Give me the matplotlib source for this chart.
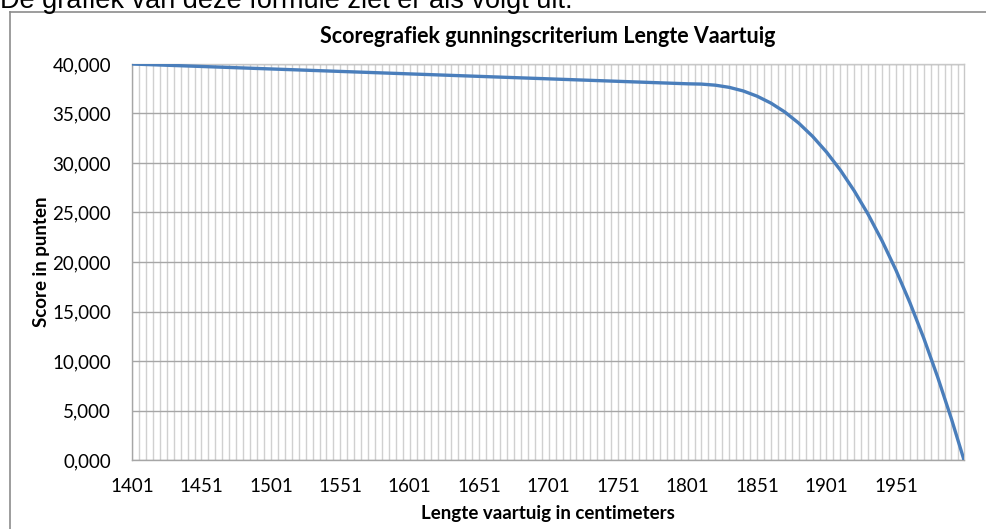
import numpy as np
import matplotlib
matplotlib.use("Agg")
import matplotlib.pyplot as plt
from matplotlib.lines import Line2D

# values (score in points, Dutch decimal comma on the axis)
lengte = [1401, 1451, 1501, 1551, 1601, 1651, 1701, 1751, 1801,
          1811, 1821, 1831, 1841, 1851, 1861, 1871, 1881, 1891, 1901,
          1911, 1921, 1931, 1941, 1951, 1961, 1971, 1981, 1991, 2000]
score = [40.00, 39.75, 39.50, 39.25, 39.00, 38.75, 38.50, 38.25, 38.00,
         37.97, 37.86, 37.64, 37.28, 36.75, 36.05, 35.15, 34.03, 32.69, 31.11,
         29.28, 27.18, 24.81, 22.14, 19.18, 15.91, 12.32, 8.39, 4.13, 0.00]
x_labels = [1401, 1451, 1501, 1551, 1601, 1651, 1701, 1751, 1801, 1851, 1901, 1951]
y_ticks = [0, 5, 10, 15, 20, 25, 30, 35, 40]

title = "Scoregrafiek gunningscriterium Lengte Vaartuig"
intro = "De grafiek van deze formule ziet er als volgt uit:"

W, H = 987, 529
fig = plt.figure(figsize=(W / 100, H / 100), dpi=100)
fig.patch.set_facecolor("white")

# sentence above the chart, cut off by the top edge as in the source screenshot
fig.text(0 / W, 1 - 8 / H, intro, fontsize=19.5, family="Liberation Sans",
         va="baseline", ha="left", color="black")

# chart frame (top and left edges only visible)
fig.add_artist(Line2D([10 / W, 10 / W], [0, 1 - 12 / H], transform=fig.transFigure,
                      color="#8c8c8c", lw=1.2))
fig.add_artist(Line2D([10 / W, 1], [1 - 12 / H, 1 - 12 / H], transform=fig.transFigure,
                      color="#8c8c8c", lw=1.2))

x0, x1, y0, y1 = 132, 964, 64, 460
ax = fig.add_axes([x0 / W, 1 - y1 / H, (x1 - x0) / W, (y1 - y0) / H])

ax.set_xlim(1401, 2000)
ax.set_ylim(0, 40)

# vertical category gridlines every 5 cm
for v in range(1401, 2001, 5):
    ax.axvline(v, color="#d0d0d0", lw=1.0, zorder=1)
for v in y_ticks:
    ax.axhline(v, color="#a6a6a6", lw=1.0, zorder=2)

ax.plot(lengte, score, color="#4a7ebb", lw=2.4, zorder=3, solid_capstyle="round")

for s in ax.spines.values():
    s.set_color("#c8c8c8")
    s.set_linewidth(1.0)
ax.spines["left"].set_color("#a6a6a6")
ax.spines["bottom"].set_color("#a6a6a6")

ax.set_xticks(x_labels)
ax.set_xticklabels([str(v) for v in x_labels])
ax.set_yticks(y_ticks)
ax.set_yticklabels([f"{v:.3f}".replace(".", ",") for v in y_ticks])
ax.tick_params(axis="x", length=0, labelsize=13.5, colors="black", pad=13)
ax.tick_params(axis="y", length=0, labelsize=13.5, colors="black", pad=15)
for lab in ax.get_xticklabels() + ax.get_yticklabels():
    lab.set_family("Lato")

ax.set_title(title, fontsize=15.5, fontweight="bold", family="Lato", pad=15)
ax.set_xlabel("Lengte vaartuig in centimeters", fontsize=13.5, fontweight="bold",
              family="Lato", labelpad=7)
ax.set_ylabel("Score in punten", fontsize=13.5, fontweight="bold", family="Lato",
              labelpad=1.5)

fig.savefig("out.png", dpi=100)
